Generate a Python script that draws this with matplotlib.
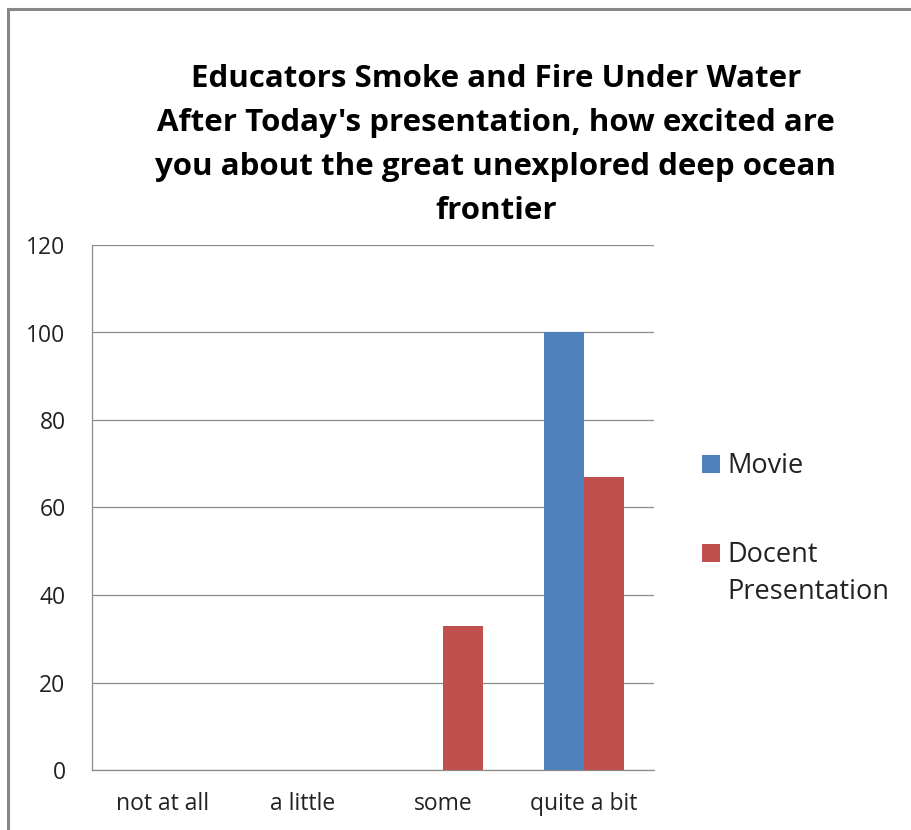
import numpy as np
import matplotlib
matplotlib.use("Agg")
import matplotlib.pyplot as plt
from matplotlib.patches import Rectangle

plt.rcParams['font.family'] = ['Open Sans', 'DejaVu Sans']

categories = ['not at all', 'a little', 'some', 'quite a bit']
movie = [0, 0, 0, 100]
docent = [0, 0, 33, 67]
colors = ['#4F81BD', '#C0504D']
title = ("Educators Smoke and Fire Under Water\n"
         "After Today's presentation, how excited are\n"
         "you about the great unexplored deep ocean\n"
         "frontier")

fig = plt.figure(figsize=(9.11, 8.30), dpi=100)
# chart-area border (left and top edges visible)
fig.patches.append(Rectangle((8 / 911, -0.01), 1.1, 1 - 9 / 830 + 0.01,
                             transform=fig.transFigure, fill=False,
                             edgecolor='#878787', linewidth=2.2))

ax = fig.add_axes([92 / 911, 60 / 830, 562 / 911, 525 / 830])
x = np.arange(len(categories))
w = 1 / 3.5
b1 = ax.bar(x - w / 2, movie, w, color=colors[0], zorder=3)
b2 = ax.bar(x + w / 2, docent, w, color=colors[1], zorder=3)

ax.set_xlim(-0.5, 3.5)
ax.set_ylim(0, 120)
ax.set_yticks(range(0, 121, 20))
ax.set_xticks(x)
ax.set_xticklabels(categories)
ax.tick_params(length=0, labelsize=16.5, colors='#222222')
ax.tick_params(axis='y', pad=19)
ax.tick_params(axis='x', pad=16)
ax.yaxis.grid(True, color='#8c8c8c', linewidth=0.9, zorder=0)
for s in ['top', 'right']:
    ax.spines[s].set_visible(False)
for s in ['left', 'bottom']:
    ax.spines[s].set_color('#8c8c8c')
    ax.spines[s].set_linewidth(0.9)

fig.text(496 / 911, 1 - 145 / 830, title, ha='center', va='center',
         fontsize=22.5, fontweight='bold', linespacing=1.6)

# legend: square sits beside the first line of a wrapped label
leg = ax.legend([b1, b2], ['Movie', 'Docent'], loc='upper left',
                bbox_to_anchor=(678 / 911, 1 - 428 / 830),
                bbox_transform=fig.transFigure, frameon=False, fontsize=19.5,
                handlelength=0.66, handleheight=0.66, handletextpad=0.28,
                labelspacing=2.25)
fig.text(727 / 911, 1 - 592 / 830, 'Presentation', ha='left', va='center',
         fontsize=19.5, color='#222222')
for t in leg.get_texts():
    t.set_color('#222222')

fig.savefig('out.png', dpi=100)
